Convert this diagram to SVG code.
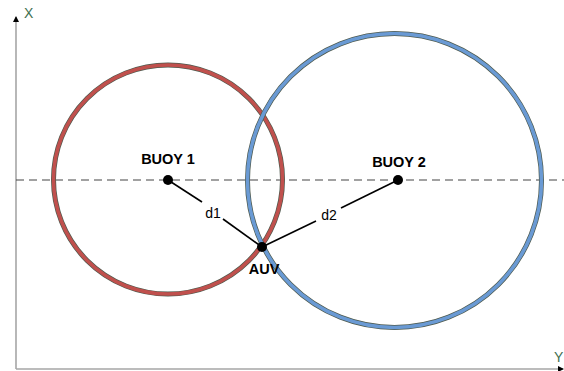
<svg xmlns="http://www.w3.org/2000/svg" width="564" height="371" viewBox="0 0 564 371">
<defs>
<style>
.axis{stroke:#a6a6a6;stroke-width:1.6;fill:none}
.lbl{font-family:"Liberation Sans",Arial,sans-serif;font-size:14px;fill:#000}
.b{font-weight:bold;font-size:14.5px}
.ax{font-family:"Liberation Sans",Arial,sans-serif;font-size:14px;fill:#3f7050}
.edge{stroke:#4e5a4e;stroke-width:5;fill:none}
.dot{fill:#000}
.link{stroke:#000;stroke-width:1.6}
</style>
<marker id="ah" markerWidth="6" markerHeight="6" refX="5" refY="3" orient="auto" markerUnits="userSpaceOnUse">
<path d="M0,0 L6,3 L0,6 Z" fill="#000"/>
</marker>
</defs>
<rect width="564" height="371" fill="#fff"/>
<g id="axes">
<line class="axis" x1="16" y1="369" x2="16" y2="17" marker-end="url(#ah)"/>
<line class="axis" x1="16" y1="369" x2="563" y2="369" marker-end="url(#ah)"/>
<text class="ax" x="24" y="18">X</text>
<text class="ax" x="554" y="362">Y</text>
</g>
<line x1="16" y1="180" x2="564" y2="180" stroke="#444" stroke-width="1.2" stroke-dasharray="8,5"/>
<g id="circle1">
<circle class="edge" cx="168" cy="179.5" r="114.5"/>
<circle cx="168" cy="179.5" r="114.5" fill="none" stroke="#c0504d" stroke-width="3.6"/>
</g>
<g id="circle2">
<circle class="edge" cx="394.5" cy="180.5" r="147"/>
<circle cx="394.5" cy="180.5" r="147" fill="none" stroke="#6a9ad4" stroke-width="3.6"/>
</g>
<g id="connectors">
<line class="link" x1="168" y1="180" x2="202" y2="202"/>
<line class="link" x1="223" y1="219" x2="262" y2="247"/>
<line class="link" x1="262" y1="247" x2="316" y2="221"/>
<line class="link" x1="341" y1="208" x2="398" y2="180"/>
<text class="lbl" x="213" y="218" text-anchor="middle">d1</text>
<text class="lbl" x="329" y="220" text-anchor="middle">d2</text>
</g>
<g id="buoy1">
<circle class="dot" cx="168" cy="180" r="5"/>
<text class="lbl b" x="168" y="164" text-anchor="middle">BUOY 1</text>
</g>
<g id="buoy2">
<circle class="dot" cx="398" cy="180" r="5"/>
<text class="lbl b" x="399" y="167" text-anchor="middle">BUOY 2</text>
</g>
<g id="auv">
<circle class="dot" cx="262" cy="247" r="5"/>
<text class="lbl b" x="264" y="274" text-anchor="middle">AUV</text>
</g>
</svg>
